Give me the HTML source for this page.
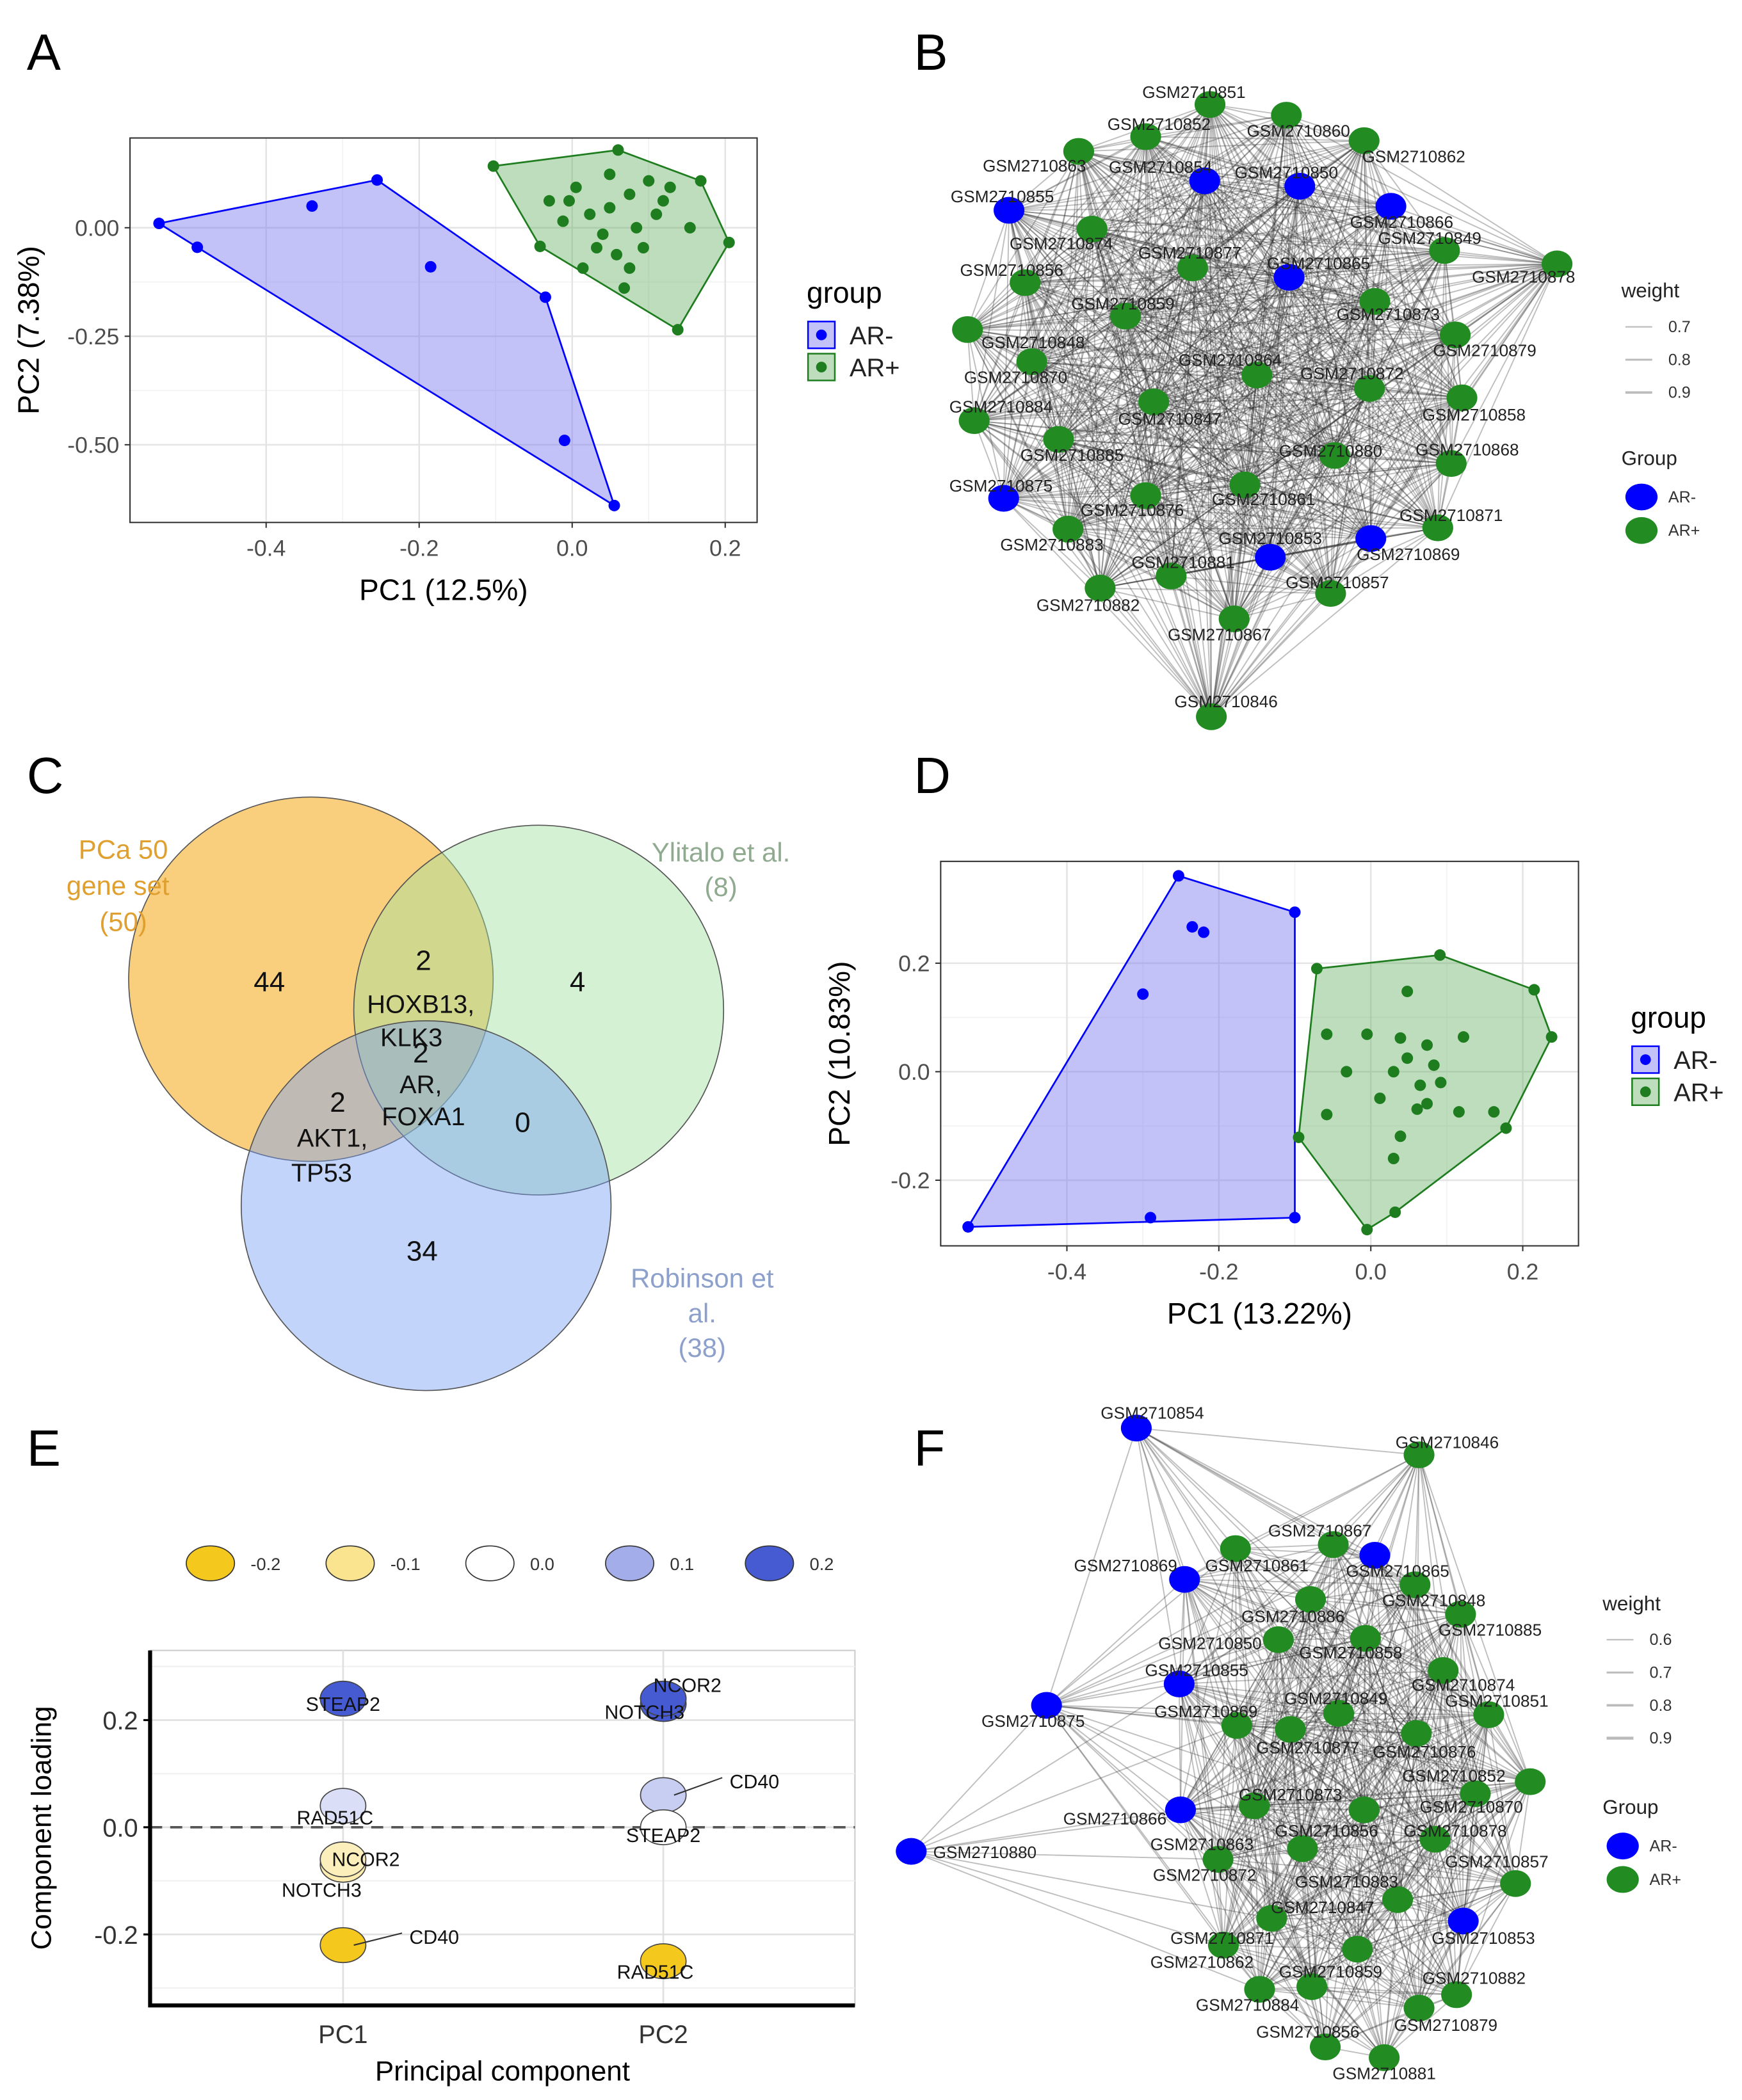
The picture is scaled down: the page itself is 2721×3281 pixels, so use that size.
<!DOCTYPE html>
<html><head><meta charset="utf-8">
<style>
html,body{margin:0;padding:0;background:#fff;}
svg{display:block;font-family:"Liberation Sans",Arial,sans-serif;}
</style></head>
<body>
<svg id="fig" width="2721" height="3281" viewBox="0 0 1300 1567.6" xmlns="http://www.w3.org/2000/svg">
<rect x="0" y="0" width="1300" height="1568" fill="#fff"/>
<g font-size="38" fill="#000">
<text x="20" y="52">A</text>
<text x="682" y="52">B</text>
<text x="20" y="592">C</text>
<text x="682" y="592">D</text>
<text x="20" y="1094">E</text>
<text x="682" y="1094">F</text>
</g>
<g id="pA"></g>
<g id="pB"></g>
<g id="pC"></g>
<g id="pD"></g>
<g id="pE"></g>
<g id="pF"></g>
</svg>
<script>
// ---------- DATA ----------
const aNegX=[-0.54,-0.49,-0.34,-0.255,-0.185,-0.035,-0.01,0.055];
const aNegY=[0.01,-0.045,0.05,0.11,-0.09,-0.16,-0.49,-0.64];
const aPosX=[-0.103,0.06,0.168,0.205,0.138,-0.042,0.068,-0.03,0.005,0.023,0.049,0.075,0.10,0.11,0.084,0.04,-0.012,0.032,0.058,0.075,0.014,0.128,0.154,-0.004,0.093,0.049,0.119];
const aPosY=[0.142,0.179,0.108,-0.034,-0.235,-0.043,-0.139,0.062,0.093,0.031,0.123,0.077,0.108,0.031,0,-0.015,0.015,-0.046,-0.062,-0.093,-0.093,0.093,0,0.062,-0.046,0.046,0.062];
const aXTicks=[-0.4,-0.2,0.0,0.2];
const aYTicks=[0.00,-0.25,-0.50];
const dNegX=[-0.53,-0.253,-0.1,-0.235,-0.22,-0.30,-0.29,-0.1];
const dNegY=[-0.286,0.361,0.294,0.267,0.257,0.143,-0.269,-0.269];
const dPosX=[-0.071,0.091,0.215,0.238,0.178,-0.005,-0.095,-0.058,-0.005,0.048,0.039,0.074,0.083,0.048,0.030,0.065,0.092,0.122,0.162,0.116,0.061,0.074,0.039,-0.058,0.030,0.032,-0.032,0.012];
const dPosY=[0.190,0.215,0.151,0.064,-0.104,-0.291,-0.121,0.069,0.069,0.148,0.062,0.049,0.012,0.025,0,-0.025,-0.020,0.064,-0.074,-0.074,-0.069,-0.059,-0.119,-0.079,-0.160,-0.259,0,-0.049];
const dXTicks=[-0.4,-0.2,0.0,0.2];
const dYTicks=[0.2,0.0,-0.2];
const eGenes1=["STEAP2","RAD51C","NCOR2","NOTCH3","CD40"];
const eLoad1=[0.24,0.04,-0.07,-0.06,-0.22];
const eGenes2=["NCOR2","NOTCH3","CD40","STEAP2","RAD51C"];
const eLoad2=[0.23,0.24,0.06,0.0,-0.25];
const eYTicks=[0.2,0.0,-0.2];
const eLegendVals=[-0.2,-0.1,0.0,0.1,0.2];
const bWeightTicks=["0.7","0.8","0.9"];
const fWeightTicks=["0.6","0.7","0.8","0.9"];

const NS="http://www.w3.org/2000/svg";
function mk(parent,tag,attrs,txt){const e=document.createElementNS(NS,tag);for(const k in attrs)e.setAttribute(k,attrs[k]);if(txt!==undefined)e.textContent=txt;parent.appendChild(e);return e;}
function hull(pts){pts=pts.slice().sort((a,b)=>a[0]-b[0]||a[1]-b[1]);const cr=(o,a,b)=>(a[0]-o[0])*(b[1]-o[1])-(a[1]-o[1])*(b[0]-o[0]);const lo=[],up=[];for(const p of pts){while(lo.length>=2&&cr(lo[lo.length-2],lo[lo.length-1],p)<=0)lo.pop();lo.push(p);}for(const p of pts.slice().reverse()){while(up.length>=2&&cr(up[up.length-2],up[up.length-1],p)<=0)up.pop();up.push(p);}up.pop();lo.pop();return lo.concat(up);}

// ---------- PCA panel ----------
function pca(g,cfg){
  const sx=v=>cfg.x0+v*cfg.kx, sy=v=>cfg.y0-v*cfg.ky;
  const bg=mk(g,'rect',{x:cfg.L,y:cfg.T,width:cfg.R-cfg.L,height:cfg.B-cfg.T,fill:'#fff'});
  
  
  for(let i=0;i<cfg.xt.length-1;i++){const v=(cfg.xt[i]+cfg.xt[i+1])/2;mk(g,'line',{x1:sx(v),x2:sx(v),y1:cfg.T,y2:cfg.B,stroke:'#f2f2f2','stroke-width':0.8});}
  for(let i=0;i<cfg.yt.length-1;i++){const v=(cfg.yt[i]+cfg.yt[i+1])/2;mk(g,'line',{x1:cfg.L,x2:cfg.R,y1:sy(v),y2:sy(v),stroke:'#f2f2f2','stroke-width':0.8});}
  cfg.xt.forEach(v=>{mk(g,'line',{x1:sx(v),x2:sx(v),y1:cfg.T,y2:cfg.B,stroke:'#e4e4e4','stroke-width':1.2});
    const t=mk(g,'text',{x:sx(v),y:cfg.B+25,'text-anchor':'middle','font-size':17,fill:'#4d4d4d'},v.toFixed(1));
    
    
    mk(g,'line',{x1:sx(v),x2:sx(v),y1:cfg.B,y2:cfg.B+4,stroke:'#333'});});
  cfg.yt.forEach(v=>{mk(g,'line',{x1:cfg.L,x2:cfg.R,y1:sy(v),y2:sy(v),stroke:'#e4e4e4','stroke-width':1.2});
    const t=mk(g,'text',{x:cfg.L-8,y:sy(v)+6,'text-anchor':'end','font-size':17,fill:'#4d4d4d'},v.toFixed(cfg.yd));
    
    
    mk(g,'line',{x1:cfg.L-4,x2:cfg.L,y1:sy(v),y2:sy(v),stroke:'#333'});});
  const groups=[[cfg.nx,cfg.ny,'#0000ff','rgba(120,120,240,0.45)','ar-negative'],[cfg.px,cfg.py,'#1e7d1e','rgba(90,170,90,0.4)','ar-positive']];
  groups.forEach(([X,Y,c,f,nm])=>{
    const pts=X.map((v,i)=>[sx(v),sy(Y[i])]);
    const h=hull(pts);
    const poly=mk(g,'polygon',{points:h.map(p=>p.join(',')).join(' '),fill:f,stroke:c,'stroke-width':1.3});
    
    
    pts.forEach(p=>{const d=mk(g,'circle',{cx:p[0],cy:p[1],r:4.3,fill:c});
      
      });
  });
  const bd=mk(g,'rect',{x:cfg.L,y:cfg.T,width:cfg.R-cfg.L,height:cfg.B-cfg.T,fill:'none',stroke:'#333','stroke-width':1});
  
  
  const xl=mk(g,'text',{x:(cfg.L+cfg.R)/2,y:cfg.B+58,'text-anchor':'middle','font-size':22},cfg.xlab);
  
  
  const yl=mk(g,'text',{x:0,y:0,transform:`translate(${cfg.L-68},${(cfg.T+cfg.B)/2}) rotate(-90)`,'text-anchor':'middle','font-size':22},cfg.ylab);
  
  
  const lx=cfg.lx, ly=cfg.ly;
  const lt=mk(g,'text',{x:lx,y:ly,'font-size':22},'group');
  
  
  [['AR-','#0000ff','rgba(120,120,240,0.45)'],['AR+','#1e7d1e','rgba(90,170,90,0.4)']].forEach(([l,c,f],i)=>{
    const y=ly+14+i*24;
    mk(g,'rect',{x:lx+1,y:y,width:20,height:20,fill:f,stroke:c,'stroke-width':1.2});
    mk(g,'circle',{cx:lx+11,cy:y+10,r:4,fill:c});
    const t=mk(g,'text',{x:lx+32,y:y+17,'font-size':19,fill:'#222'},l);
    
    
  });
}
pca(document.getElementById('pA'),{L:97,R:565,T:103,B:390,x0:427,kx:571,y0:170,ky:324,xt:aXTicks,yt:aYTicks,yd:2,nx:aNegX,ny:aNegY,px:aPosX,py:aPosY,xlab:'PC1 (12.5%)',ylab:'PC2 (7.38%)',lx:602,ly:226});
pca(document.getElementById('pD'),{L:702,R:1178,T:643,B:930,x0:1023,kx:567,y0:800,ky:405,xt:dXTicks,yt:dYTicks,yd:1,nx:dNegX,ny:dNegY,px:dPosX,py:dPosY,xlab:'PC1 (13.22%)',ylab:'PC2 (10.83%)',lx:1217,ly:767});

// ---------- Networks ----------
function network(g,nodes,labels,maxd,legend){
  const eg=mk(g,'g',{stroke:'rgba(40,40,40,0.3)','stroke-width':0.9});
  
  
  for(let i=0;i<nodes.length;i++)for(let j=i+1;j<nodes.length;j++){
    const a=nodes[i],b=nodes[j];const d=Math.hypot(a[0]-b[0],a[1]-b[1]);
    if(d<maxd)mk(eg,'line',{x1:a[0],y1:a[1],x2:b[0],y2:b[1]});
  }
  nodes.forEach(n=>{const e=mk(g,'ellipse',{cx:n[0],cy:n[1],rx:11.5,ry:10,fill:n[2]?'#0000ff':'#228b22'});
    
    });
  labels.forEach(l=>{const t=mk(g,'text',{x:l[1],y:l[2]+4,'text-anchor':'middle','font-size':12.5,fill:'#222'},l[0]);
    
    });
  const [lx,ly,ticks,gy]=legend;
  const wt=mk(g,'text',{x:lx,y:ly,'font-size':15,fill:'#222'},'weight');
  
  
  ticks.forEach((t,i)=>{const y=ly+22+i*24.5;mk(g,'line',{x1:lx+3,x2:lx+23,y1:y,y2:y,stroke:'#bbb','stroke-width':1+i*0.4});
    const tx=mk(g,'text',{x:lx+35,y:y+4,'font-size':12,fill:'#333'},t);
    
    });
  const gt=mk(g,'text',{x:lx,y:gy,'font-size':15,fill:'#222'},'Group');
  
  
  [['AR-','#0000ff'],['AR+','#228b22']].forEach(([l,c],i)=>{const y=gy+24+i*25;mk(g,'ellipse',{cx:lx+15,cy:y,rx:12,ry:10,fill:c});
    const tx=mk(g,'text',{x:lx+35,y:y+4,'font-size':12,fill:'#333'},l);
    
    });
}
const bNodes=[[903,78,0],[960,86,0],[855,102,0],[1018,105,0],[805,113,0],[899,135,1],[970,139,1],[753,157,1],[1038,154,1],[815,171,0],[1078,187,0],[1162,197,0],[890,200,0],[962,207,1],[765,211,0],[1026,225,0],[840,236,0],[722,246,0],[1086,250,0],[770,270,0],[938,280,0],[1022,290,0],[727,314,0],[861,300,0],[1091,297,0],[790,328,0],[996,340,0],[1083,346,0],[749,372,1],[929,362,0],[855,370,0],[1073,394,0],[797,395,0],[1023,402,1],[948,416,1],[874,430,0],[993,443,0],[821,439,0],[921,462,0],[904,535,0]];
const bLabels=[["GSM2710851",891,69],["GSM2710852",865,93],["GSM2710860",969,98],["GSM2710862",1055,117],["GSM2710863",772,124],["GSM2710854",866,125],["GSM2710850",960,129],["GSM2710855",748,147],["GSM2710866",1046,166],["GSM2710849",1067,178],["GSM2710874",792,182],["GSM2710877",888,189],["GSM2710865",984,197],["GSM2710878",1137,207],["GSM2710856",755,202],["GSM2710859",838,227],["GSM2710873",1036,235],["GSM2710848",771,256],["GSM2710879",1108,262],["GSM2710864",918,269],["GSM2710870",758,282],["GSM2710872",1009,279],["GSM2710884",747,304],["GSM2710858",1100,310],["GSM2710847",873,313],["GSM2710885",800,340],["GSM2710880",993,337],["GSM2710868",1095,336],["GSM2710875",747,363],["GSM2710861",943,373],["GSM2710876",845,381],["GSM2710871",1083,385],["GSM2710883",785,407],["GSM2710853",948,402],["GSM2710869",1051,414],["GSM2710881",883,420],["GSM2710857",998,435],["GSM2710882",812,452],["GSM2710867",910,474],["GSM2710846",915,524]];
network(document.getElementById('pB'),bNodes,bLabels,9999,[1210,222,bWeightTicks,347]);

const fNodes=[[848,1066,1],[1059,1086,0],[995,1153,0],[1026,1161,1],[922,1156,0],[884,1179,1],[1056,1183,0],[1090,1205,0],[978,1194,0],[954,1224,0],[1019,1223,0],[1077,1247,0],[880,1257,1],[781,1273,1],[923,1288,0],[963,1291,0],[999,1279,0],[1057,1294,0],[1111,1280,0],[1142,1330,0],[1101,1339,0],[936,1348,0],[1018,1351,0],[881,1351,1],[1071,1373,0],[680,1382,1],[972,1380,0],[909,1388,0],[1131,1406,0],[1043,1418,0],[949,1432,0],[1092,1434,1],[913,1452,0],[1013,1455,0],[940,1485,0],[979,1483,0],[1087,1489,0],[1059,1499,0],[989,1528,0],[1033,1536,0]];
const fLabels=[["GSM2710854",860,1055],["GSM2710846",1080,1077],["GSM2710867",985,1143],["GSM2710861",938,1169],["GSM2710869",840,1169],["GSM2710865",1043,1173],["GSM2710848",1070,1195],["GSM2710886",965,1207],["GSM2710885",1112,1217],["GSM2710850",903,1227],["GSM2710858",1008,1234],["GSM2710855",893,1247],["GSM2710874",1092,1258],["GSM2710875",771,1285],["GSM2710869",900,1278],["GSM2710849",997,1268],["GSM2710851",1117,1270],["GSM2710877",976,1305],["GSM2710876",1063,1308],["GSM2710852",1085,1326],["GSM2710873",963,1340],["GSM2710870",1098,1349],["GSM2710866",832,1358],["GSM2710856",990,1367],["GSM2710878",1086,1367],["GSM2710880",735,1383],["GSM2710863",897,1377],["GSM2710872",899,1400],["GSM2710857",1117,1390],["GSM2710883",1005,1405],["GSM2710847",987,1424],["GSM2710871",912,1447],["GSM2710853",1107,1447],["GSM2710862",897,1465],["GSM2710859",993,1472],["GSM2710882",1100,1477],["GSM2710884",931,1497],["GSM2710879",1079,1512],["GSM2710856",976,1517],["GSM2710881",1033,1548]];
network(document.getElementById('pF'),fNodes,fLabels,280,[1196,1202,fWeightTicks,1354]);

// ---------- Venn ----------
(function(){
  const g=document.getElementById('pC');
  [[232,731,136,'rgba(245,175,40,0.6)','set-pca50'],[402,754,138,'rgba(160,225,160,0.45)','set-ylitalo'],[318,900,138,'rgba(120,160,245,0.45)','set-robinson']].forEach(([x,y,r,f,n])=>{
    const c=mk(g,'circle',{cx:x,cy:y,r:r,fill:f,stroke:'#555','stroke-width':0.8});
    
    });
  const T=(s,x,y,c,fs,nm)=>{const t=mk(g,'text',{x:x,y:y,'text-anchor':'middle','font-size':fs||21,fill:c||'#111'},s);
    
    };
  T('PCa 50',92,641,'#e0a030',20,'set-label');T('gene set',88,668,'#e0a030',20,'set-label');T('(50)',92,695,'#e0a030',20,'set-label');
  T('Ylitalo et al.',538,643,'#90aa90',20,'set-label');T('(8)',538,669,'#90aa90',20,'set-label');
  T('Robinson et',524,961,'#8da0cc',20,'set-label');T('al.',524,987,'#8da0cc',20,'set-label');T('(38)',524,1013,'#8da0cc',20,'set-label');
  T('44',201,740);T('2',316,724);T('HOXB13,',314,756,null,19,'gene-list');T('KLK3',307,781,null,19,'gene-list');
  T('4',431,740);T('2',314,793);T('AR,',314,816,null,19,'gene-list');T('FOXA1',316,840,null,19,'gene-list');
  T('2',252,830);T('AKT1,',248,856,null,19,'gene-list');T('TP53',240,882,null,19,'gene-list');
  T('0',390,845);T('34',315,941);
})();

// ---------- Panel E ----------
(function(){
  const g=document.getElementById('pE');
  const L=112,R=638,T=1232,B=1497,y0=1364,k=400;
  const sy=v=>y0-v*k;
  const xPos={PC1:256,PC2:495};
  function col(v){const t=Math.max(-1,Math.min(1,v/0.2));
    const w=[255,255,255], neg=[245,200,30], pos=[70,90,210];
    const c=t<0?neg:pos, a=Math.abs(t);
    return `rgb(${w.map((x,i)=>Math.round(x+(c[i]-x)*a)).join(',')})`;}
  eLegendVals.forEach((v,i)=>{const x=157+i*104.3;
    const e=mk(g,'ellipse',{cx:x,cy:1167,rx:18,ry:13,fill:col(v),stroke:'#333','stroke-width':0.8});
    
    
    const t=mk(g,'text',{x:x+30,y:1172,'font-size':13,fill:'#333'},v.toFixed(1));
    
    });
  mk(g,'rect',{x:L,y:T,width:R-L,height:B-T,fill:'#fff',stroke:'#ccc','stroke-width':1});
  for(let i=0;i<eYTicks.length-1;i++){const v=(eYTicks[i]+eYTicks[i+1])/2;mk(g,'line',{x1:L,x2:R,y1:sy(v),y2:sy(v),stroke:'#f0f0f0'});}
  mk(g,'line',{x1:L,x2:R,y1:sy(eYTicks[0]+0.1),y2:sy(eYTicks[0]+0.1),stroke:'#f0f0f0'});
  mk(g,'line',{x1:L,x2:R,y1:sy(eYTicks[2]-0.1),y2:sy(eYTicks[2]-0.1),stroke:'#f0f0f0'});
  eYTicks.forEach(v=>{mk(g,'line',{x1:L,x2:R,y1:sy(v),y2:sy(v),stroke:'#e0e0e0','stroke-width':1.3});
    const t=mk(g,'text',{x:L-9,y:sy(v)+7,'text-anchor':'end','font-size':19,fill:'#333'},v.toFixed(1));
    
    
    mk(g,'line',{x1:L-5,x2:L,y1:sy(v),y2:sy(v),stroke:'#000','stroke-width':1.5});});
  Object.keys(xPos).forEach(k2=>{mk(g,'line',{x1:xPos[k2],x2:xPos[k2],y1:T,y2:B,stroke:'#e0e0e0','stroke-width':1.3});
    const t=mk(g,'text',{x:xPos[k2],y:B+28,'text-anchor':'middle','font-size':19,fill:'#333'},k2);
    
    });
  mk(g,'line',{x1:L,x2:R,y1:sy(0),y2:sy(0),stroke:'#555','stroke-width':1.8,'stroke-dasharray':'9,6'});
  mk(g,'polyline',{points:`${L},${T} ${L},${B} ${R},${B}`,fill:'none',stroke:'#000','stroke-width':3});
  const lab=(s,x,y,nm)=>{const t=mk(g,'text',{x:x,y:y,'text-anchor':'middle','font-size':14.5,fill:'#111'},s);
    
    };
  const off1={STEAP2:[0,4],RAD51C:[-6,9],NCOR2:[17,-4],NOTCH3:[-16,23],CD40:[68,-6]};
  const off2={NCOR2:[18,-14],NOTCH3:[-14,10],CD40:[68,-10],STEAP2:[0,6],RAD51C:[-6,8]};
  [[eGenes1,eLoad1,'PC1',off1],[eGenes2,eLoad2,'PC2',off2]].forEach(([G,V,pc,off])=>{
    G.forEach((gn,i)=>{const x=xPos[pc],y=sy(V[i]);
      const e=mk(g,'ellipse',{cx:x,cy:y,rx:17,ry:13,fill:col(V[i]),stroke:'#444','stroke-width':0.8});
      
      });
    G.forEach((gn,i)=>{const x=xPos[pc],y=sy(V[i]);const o=off[gn];
      if(gn==='CD40')mk(g,'line',{x1:x+8,y1:y,x2:x+o[0]-24,y2:y+o[1]-3,stroke:'#333'});
      lab(gn,x+o[0],y+o[1]+5,'loading-label');});
  });
  const yl=mk(g,'text',{x:0,y:0,transform:`translate(38,${(T+B)/2}) rotate(-90)`,'text-anchor':'middle','font-size':21},'Component loading');
  
  
  const xl=mk(g,'text',{x:375,y:1553,'text-anchor':'middle','font-size':21},'Principal component');
  
  
})();
</script>
</body></html>
